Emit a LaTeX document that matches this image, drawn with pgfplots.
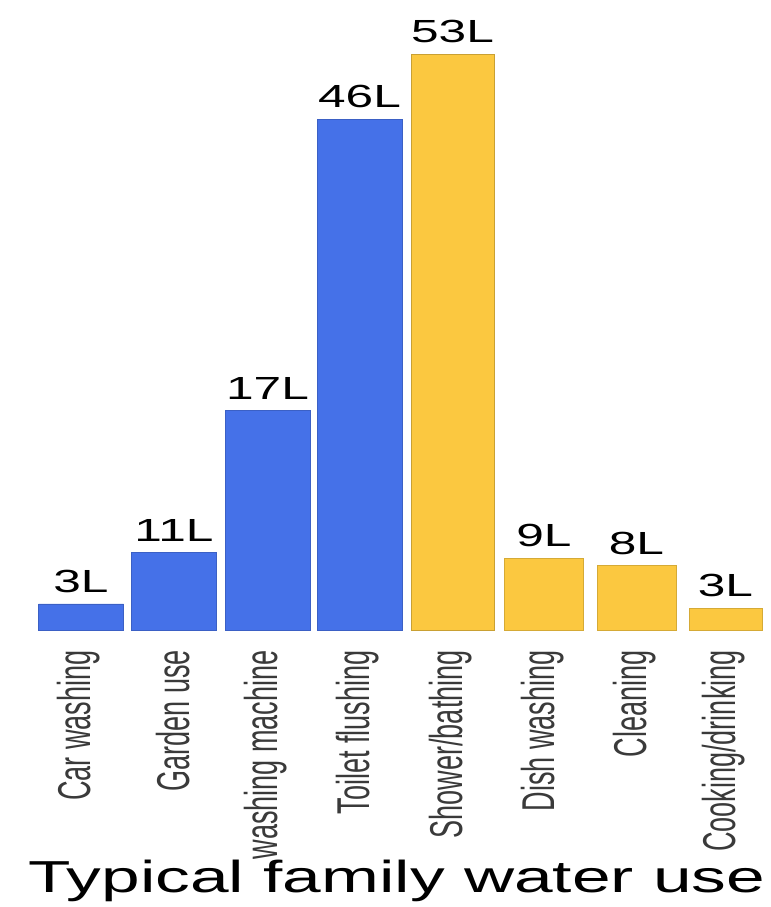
\documentclass[border=0pt]{standalone}
\usepackage{pgfplots}
\pgfplotsset{compat=1.18}
\usepackage{fontspec}
\setmainfont{Liberation Sans}
\definecolor{barblue}{HTML}{4571E8}
\definecolor{baryellow}{HTML}{FBC840}
\definecolor{labgray}{HTML}{3A3A3A}
\newcommand\sx[1]{\scalebox{1.55}[1]{#1}}
\newcommand\sy[1]{\scalebox{1}[1.7]{#1}}
\begin{document}
\begin{tikzpicture}
\useasboundingbox (0,0) rectangle (578.25pt,680.25pt);
\begin{axis}[
  at={(0pt,207.75pt)}, anchor=south west,
  scale only axis, width=578.25pt, height=432pt,
  xmin=0, xmax=771, ymin=0, ymax=53,
  clip=false,
  axis line style={draw=none},
  major tick length=0pt,
  ytick=\empty,
  xtick={79,173,266,358,451,543,635,724},
  xticklabels={\sy{Car washing},\sy{Garden use},\sy{washing machine},\sy{Toilet flushing},\sy{Shower/bathing},\sy{Dish washing},\sy{Cleaning},\sy{Cooking/drinking}},
  xticklabel style={rotate=90, anchor=east, inner sep=0pt, text=labgray,
     font=\fontsize{20.3}{24}\selectfont},
  xticklabel shift=15pt,
  ybar, bar shift=0pt,
  point meta=explicit symbolic,
  nodes near coords={\sx{\pgfplotspointmeta}},
  nodes near coords style={anchor=south, inner sep=0pt, yshift=8.25pt,
     font=\fontsize{24}{28}\selectfont, text=black},
]
\addplot[fill=barblue, draw=barblue!85!black, line width=0.6pt, bar width=85]
  coordinates {(81,2.4) [3L] (174,7.1) [11L] (267.5,20.2) [17L] (359.5,47.0) [46L]};
\addplot[fill=baryellow, draw=baryellow!80!black, line width=0.6pt, bar width=83]
  coordinates {(452.5,53.0) [53L]};
\addplot[fill=baryellow, draw=baryellow!85!black, line width=0.6pt, bar width=79]
  coordinates {(544,6.6) [9L] (636.5,5.9) [8L]};
\addplot[fill=baryellow, draw=baryellow!85!black, line width=0.6pt, bar width=73]
  coordinates {(725.5,2.0) [3L]};
\end{axis}
\node[anchor=base, inner sep=0pt, font=\fontsize{33.6}{40}\selectfont] at (297.5pt,10.5pt) {\sx{Typical family water use}};
\end{tikzpicture}
\end{document}
